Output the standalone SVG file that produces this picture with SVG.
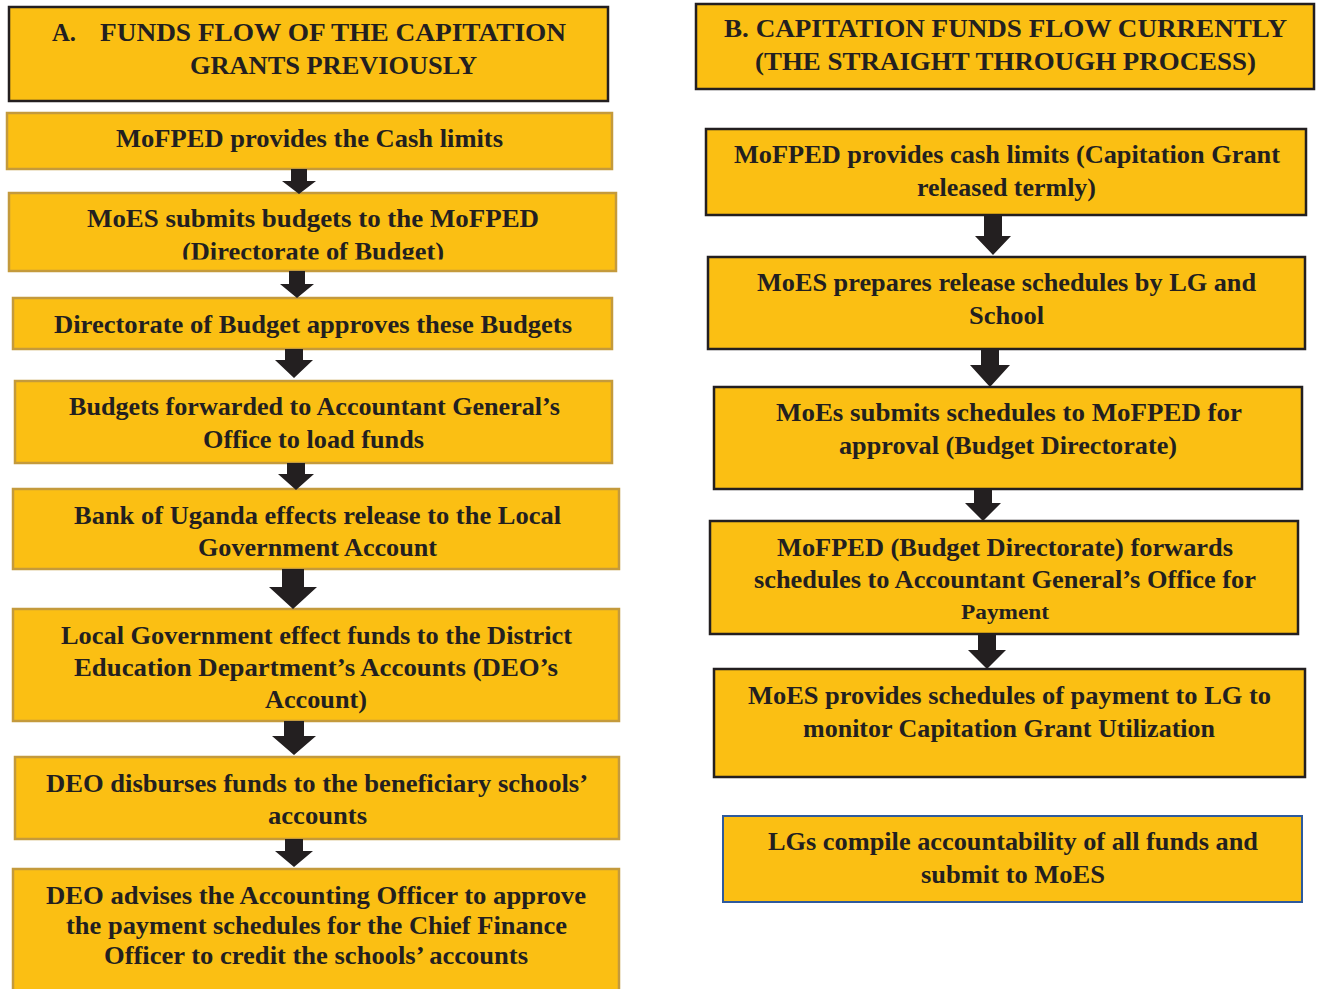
<svg xmlns="http://www.w3.org/2000/svg" width="1318" height="989" viewBox="0 0 1318 989">
<style>
.bg{fill:#ffffff}
.box{fill:#FBBF13;stroke:#C49A3C;stroke-width:2.5}
.dbox{fill:#FBBF13;stroke:#231f20;stroke-width:2.5}
.bbox{fill:#FBBF13;stroke:#2E5A9C;stroke-width:2}
text{font-family:"Liberation Serif","Times New Roman",serif;font-weight:bold;fill:#231f20;font-size:25px}
.t{font-size:26px}
.sm{font-size:21px}
.arr{fill:#231f20}
</style>
<defs>
<clipPath id="clip2"><rect x="0" y="190" width="660" height="69.5"/></clipPath>
</defs>
<rect class="bg" x="0" y="0" width="1318" height="989"/>

<g id="titleA">
<rect class="dbox" x="9" y="7" width="599" height="94"/>
<text class="t" x="52" y="41" textLength="24" lengthAdjust="spacingAndGlyphs">A.</text>
<text class="t" x="100" y="41" textLength="466" lengthAdjust="spacingAndGlyphs">FUNDS FLOW OF THE CAPITATION</text>
<text class="t" x="190" y="74" textLength="287" lengthAdjust="spacingAndGlyphs">GRANTS PREVIOUSLY</text>
</g>

<g id="titleB">
<rect class="dbox" x="696" y="4" width="618" height="85"/>
<text class="t" x="724" y="37" textLength="563" lengthAdjust="spacingAndGlyphs">B. CAPITATION FUNDS FLOW CURRENTLY</text>
<text class="t" x="755" y="70" textLength="501" lengthAdjust="spacingAndGlyphs">(THE STRAIGHT THROUGH PROCESS)</text>
</g>

<g id="a1">
<rect class="box" x="7" y="113" width="605" height="56"/>
<text x="116" y="147" textLength="387" lengthAdjust="spacingAndGlyphs">MoFPED provides the Cash limits</text>
</g>
<g id="a2">
<rect class="box" x="9" y="193" width="607" height="78"/>
<text x="87" y="227" textLength="452" lengthAdjust="spacingAndGlyphs">MoES submits budgets to the MoFPED</text>
<text x="182" y="260" textLength="262" lengthAdjust="spacingAndGlyphs" clip-path="url(#clip2)">(Directorate of Budget)</text>
</g>
<g id="a3">
<rect class="box" x="13" y="298" width="599" height="51"/>
<text x="54" y="333" textLength="518" lengthAdjust="spacingAndGlyphs">Directorate of Budget approves these Budgets</text>
</g>
<g id="a4">
<rect class="box" x="15" y="381" width="597" height="82"/>
<text x="69" y="415" textLength="491" lengthAdjust="spacingAndGlyphs">Budgets forwarded to Accountant General’s</text>
<text x="203" y="448" textLength="221" lengthAdjust="spacingAndGlyphs">Office to load funds</text>
</g>
<g id="a5">
<rect class="box" x="13" y="489" width="606" height="80"/>
<text x="74" y="524" textLength="487" lengthAdjust="spacingAndGlyphs">Bank of Uganda effects release to the Local</text>
<text x="198" y="556" textLength="239" lengthAdjust="spacingAndGlyphs">Government Account</text>
</g>
<g id="a6">
<rect class="box" x="13" y="609" width="606" height="112"/>
<text x="61" y="644" textLength="511" lengthAdjust="spacingAndGlyphs">Local Government effect funds to the District</text>
<text x="74" y="676" textLength="484" lengthAdjust="spacingAndGlyphs">Education Department’s Accounts (DEO’s</text>
<text x="265" y="708" textLength="102" lengthAdjust="spacingAndGlyphs">Account)</text>
</g>
<g id="a7">
<rect class="box" x="15" y="757" width="604" height="82"/>
<text x="46" y="792" textLength="542" lengthAdjust="spacingAndGlyphs">DEO disburses funds to the beneficiary schools’</text>
<text x="268" y="824" textLength="99" lengthAdjust="spacingAndGlyphs">accounts</text>
</g>
<g id="a8">
<rect class="box" x="13" y="869" width="606" height="130"/>
<text x="46" y="904" textLength="540" lengthAdjust="spacingAndGlyphs">DEO advises the Accounting Officer to approve</text>
<text x="66" y="934" textLength="501" lengthAdjust="spacingAndGlyphs">the payment schedules for the Chief Finance</text>
<text x="104" y="964" textLength="424" lengthAdjust="spacingAndGlyphs">Officer to credit the schools’ accounts</text>
</g>

<g id="b1">
<rect class="dbox" x="706" y="129" width="600" height="86"/>
<text x="734" y="163" textLength="546" lengthAdjust="spacingAndGlyphs">MoFPED provides cash limits (Capitation Grant</text>
<text x="917" y="196" textLength="179" lengthAdjust="spacingAndGlyphs">released termly)</text>
</g>
<g id="b2">
<rect class="dbox" x="708" y="257" width="597" height="92"/>
<text x="757" y="291" textLength="499" lengthAdjust="spacingAndGlyphs">MoES prepares release schedules by LG and</text>
<text x="969" y="324" textLength="75" lengthAdjust="spacingAndGlyphs">School</text>
</g>
<g id="b3">
<rect class="dbox" x="714" y="387" width="588" height="102"/>
<text x="776" y="421" textLength="466" lengthAdjust="spacingAndGlyphs">MoEs submits schedules to MoFPED for</text>
<text x="839" y="454" textLength="338" lengthAdjust="spacingAndGlyphs">approval (Budget Directorate)</text>
</g>
<g id="b4">
<rect class="dbox" x="710" y="521" width="588" height="113"/>
<text x="777" y="556" textLength="456" lengthAdjust="spacingAndGlyphs">MoFPED (Budget Directorate) forwards</text>
<text x="754" y="588" textLength="502" lengthAdjust="spacingAndGlyphs">schedules to Accountant General’s Office for</text>
<text class="sm" x="961" y="619" textLength="88" lengthAdjust="spacingAndGlyphs">Payment</text>
</g>
<g id="b5">
<rect class="dbox" x="714" y="669" width="591" height="108"/>
<text x="748" y="704" textLength="523" lengthAdjust="spacingAndGlyphs">MoES provides schedules of payment to LG to</text>
<text x="803" y="737" textLength="412" lengthAdjust="spacingAndGlyphs">monitor Capitation Grant Utilization</text>
</g>
<g id="b6">
<rect class="bbox" x="723" y="816" width="579" height="86"/>
<text x="768" y="850" textLength="490" lengthAdjust="spacingAndGlyphs">LGs compile accountability of all funds and</text>
<text x="921" y="883" textLength="184" lengthAdjust="spacingAndGlyphs">submit to MoES</text>
</g>

<g id="connectors">
<path class="arr" d="M291,169 H307 V181 H316 L299,194 L282,181 H291 Z"/>
<path class="arr" d="M289,271 H305 V284 H314 L297,298 L280,284 H289 Z"/>
<path class="arr" d="M285,349 H303 V360 H313 L294,378 L275,360 H285 Z"/>
<path class="arr" d="M287,463 H305 V474 H314 L296,490 L278,474 H287 Z"/>
<path class="arr" d="M282,569 H304 V587 H317 L293,609 L269,587 H282 Z"/>
<path class="arr" d="M284,721 H304 V736 H316 L294,755 L272,736 H284 Z"/>
<path class="arr" d="M285,839 H303 V851 H313 L294,867 L275,851 H285 Z"/>
<path class="arr" d="M984,215 H1002 V236 H1011 L993,255 L975,236 H984 Z"/>
<path class="arr" d="M981,349 H999 V365 H1010 L990,387 L970,365 H981 Z"/>
<path class="arr" d="M974,489 H992 V503 H1001 L983,521 L965,503 H974 Z"/>
<path class="arr" d="M978,634 H996 V650 H1006 L987,669 L968,650 H978 Z"/>
</g>
</svg>
